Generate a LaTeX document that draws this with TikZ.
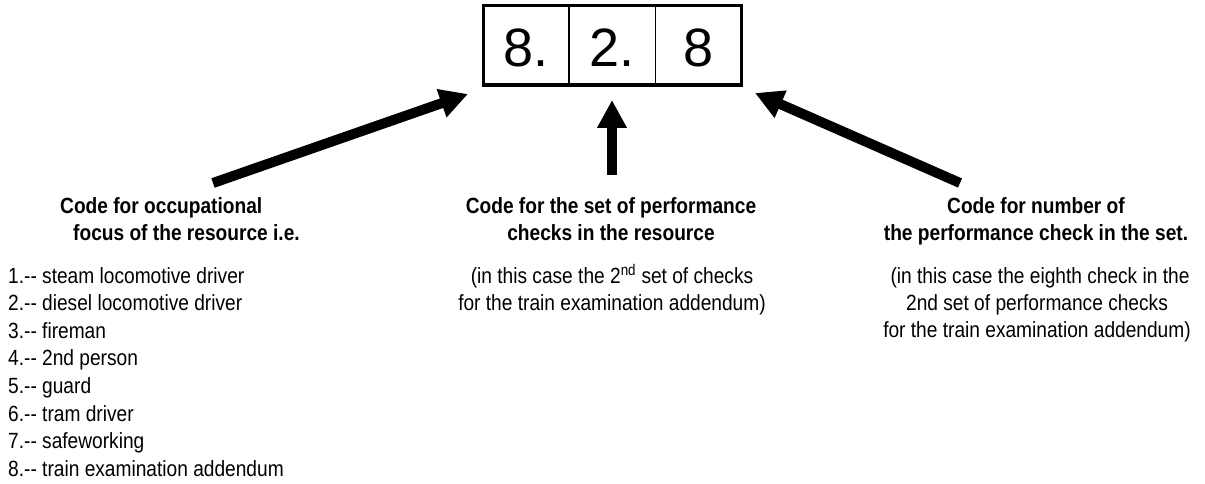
\documentclass[tikz,border=0pt]{standalone}
\usepackage{fontspec}
\setmainfont{Liberation Sans}[FakeStretch=0.87]
\newfontfamily\digitfont{Liberation Sans}
\usetikzlibrary{arrows.meta}
\tikzset{
  txt/.style={inner sep=0pt, anchor=base, font=\fontsize{22}{27}\selectfont},
  head/.style={txt, font=\fontsize{22}{27}\selectfont\bfseries},
  listitem/.style={txt, anchor=base west},
  digit/.style={txt, font=\digitfont\fontsize{54}{60}\selectfont},
  bigarrow/.style={line width=10pt, -{Triangle[length=28pt,width=28pt]}},
}
\begin{document}
\begin{tikzpicture}[x=1pt,y=-1pt]
\useasboundingbox (0,0) rectangle (1205,484);
% code box
\draw[line width=3.5pt] (483.5,5.5) rectangle (741.5,85);
\draw[line width=1.2pt] (569,5.5) -- (569,85);
\draw[line width=1.2pt] (655.5,5.5) -- (655.5,85);
\node[digit] (c1) at (526,67) {8.};
\node[digit] (c2) at (612,67) {2.};
\node[digit] (c3) at (698.5,67) {8};
% arrows
\coordinate (tailL) at (213,183);
\coordinate (tipL) at (468,94);
\coordinate (tailM) at (612,175);
\coordinate (tipM) at (612,100);
\coordinate (tailR) at (960,183);
\coordinate (tipR) at (755,93);
\draw[bigarrow] (tailL) -- (tipL);
\draw[bigarrow] (tailM) -- (tipM);
\draw[bigarrow] (tailR) -- (tipR);
% left heading
\node[head, anchor=base west] (hl1) at (60,213) {Code for occupational};
\node[head, anchor=base west] (hl2) at (73,240) {focus of the resource i.e.};
% list
\foreach \t [count=\i] in {steam locomotive driver, diesel locomotive driver, fireman, 2nd person, guard, tram driver, safeworking, train examination addendum}{
  \node[listitem] (li\i) at (8,{283+27.6*(\i-1)}) {\i.-\kern0pt- \t};
}
% middle
\node[head] (hm1) at (611,213) {Code for the set of performance};
\node[head] (hm2) at (611,240) {checks in the resource};
\node[txt] (sm1) at (612,283) {(in this case the 2\textsuperscript{nd} set of checks};
\node[txt] (sm2) at (612,310) {for the train examination addendum)};
% right
\node[head] (hr1) at (1036,213) {Code for number of};
\node[head] (hr2) at (1036,240) {the performance check in the set.};
\node[txt] (sr1) at (1040,283) {(in this case the eighth check in the};
\node[txt] (sr2) at (1037,310) {2nd set of performance checks};
\node[txt] (sr3) at (1037,337) {for the train examination addendum)};
\end{tikzpicture}
\end{document}
